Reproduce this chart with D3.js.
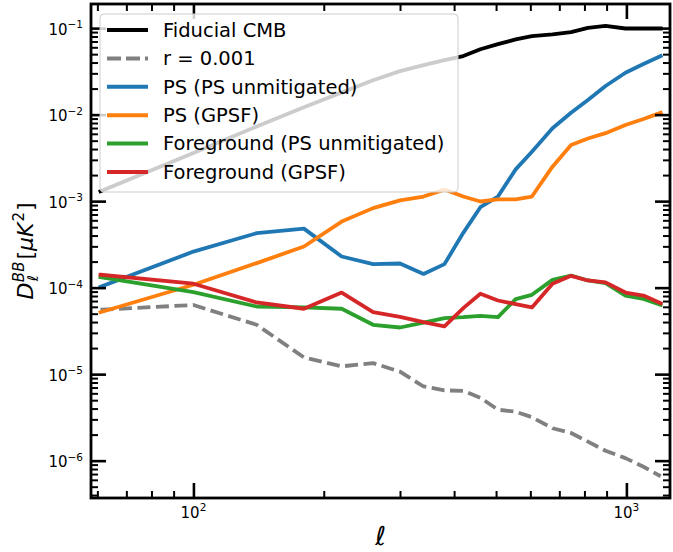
<!DOCTYPE html>
<html><head><meta charset="utf-8">
<script src="https://cdn.jsdelivr.net/npm/d3@7"></script>
<style>body{margin:0;background:#fff}svg{display:block}</style>
</head><body><svg id="c" width="673" height="552"></svg>
<script>
// ---- data (multipole bins and D_ell^BB values in uK^2) ----
const ell = [61,100,140,180,220,260,300,340,380,420,460,505,555,605,675,745,815,895,995,1095,1200];
const fiducialCMB = [1.3e-3,3.6e-3,7.3e-3,1.22e-2,1.8e-2,2.5e-2,3.18e-2,3.74e-2,4.27e-2,4.75e-2,5.7e-2,6.53e-2,7.4e-2,8.1e-2,8.46e-2,9.0e-2,1.007e-1,1.06e-1,9.9e-2,9.9e-2,9.9e-2];
const rTensor = [5.55e-5,6.3e-5,3.72e-5,1.56e-5,1.23e-5,1.34e-5,1.07e-5,7.2e-6,6.5e-6,6.4e-6,5.33e-6,3.88e-6,3.68e-6,3.18e-6,2.37e-6,2.09e-6,1.66e-6,1.3e-6,1.07e-6,8.5e-7,6.6e-7];
const psUnmitigated = [1.02e-4,2.61e-4,4.26e-4,4.81e-4,2.29e-4,1.87e-4,1.9e-4,1.44e-4,1.87e-4,4.3e-4,8.5e-4,1.13e-3,2.33e-3,3.73e-3,6.95e-3,1.05e-2,1.48e-2,2.14e-2,3.05e-2,3.84e-2,4.75e-2];
const psGPSF = [5.2e-5,1.08e-4,1.92e-4,2.99e-4,5.8e-4,8.3e-4,1.02e-3,1.13e-3,1.36e-3,1.13e-3,9.9e-4,1.05e-3,1.05e-3,1.13e-3,2.5e-3,4.45e-3,5.3e-3,6.1e-3,7.6e-3,8.9e-3,1.05e-2];
const fgUnmitigated = [1.32e-4,8.87e-5,6.05e-5,5.9e-5,5.7e-5,3.72e-5,3.46e-5,3.95e-5,4.45e-5,4.56e-5,4.72e-5,4.56e-5,7.37e-5,8.26e-5,1.23e-4,1.38e-4,1.21e-4,1.13e-4,8.1e-5,7.42e-5,6.33e-5];
const fgGPSF = [1.41e-4,1.11e-4,6.74e-5,5.7e-5,8.77e-5,5.2e-5,4.6e-5,4.0e-5,3.56e-5,5.8e-5,8.5e-5,7.1e-5,6.45e-5,5.9e-5,1.11e-4,1.37e-4,1.21e-4,1.15e-4,8.77e-5,8.1e-5,6.62e-5];
const seriesNames = ["Fiducial CMB","r = 0.001","PS (PS unmitigated)","PS (GPSF)","Foreground (PS unmitigated)","Foreground (GPSF)"];
const seriesValues = [fiducialCMB, rTensor, psUnmitigated, psGPSF, fgUnmitigated, fgGPSF];
const seriesColors = ["#000000","#808080","#1f77b4","#ff7f0e","#2ca02c","#d62728"];
const seriesDashed = [false,true,false,false,false,false];
const xDomain = [58, 1261];
const yDomain = [3.7e-7, 0.19];
const xMajor = [100, 1000];
const xMajorExp = ["2","3"];
const yMajor = [1e-6,1e-5,1e-4,1e-3,1e-2,1e-1];
const yMajorExp = ["−6","−5","−4","−3","−2","−1"];

// ---- layout ----
const svg = d3.select('#c');
const L=91, R=670, T=4, B=498;
const x = d3.scaleLog().domain(xDomain).range([L,R]);
const y = d3.scaleLog().domain(yDomain).range([B,T]);
const FONT = "DejaVu Sans, Liberation Sans, sans-serif";

// minor tick values
const xMinor = [];
for (let e=1;e<=3;e++) for (let m=2;m<=9;m++){const v=m*Math.pow(10,e); if(v>=xDomain[0]&&v<=xDomain[1]) xMinor.push(v);}
const yMinor = [];
for (let e=-7;e<=-1;e++) for (let m=2;m<=9;m++){const v=m*Math.pow(10,e); if(v>=yDomain[0]&&v<=yDomain[1]) yMinor.push(v);}

// ---- lines ----
const line = d3.line().x((d,i)=>x(ell[i])).y(d=>y(d));
const gLines = svg.append('g');
seriesValues.forEach((vals,k)=>{
  gLines.append('path').attr('d', line(vals)).attr('fill','none')
    .attr('stroke', seriesColors[k]).attr('stroke-width',3.8)
    .attr('stroke-linejoin','round')
    .attr('stroke-linecap', seriesDashed[k]?'butt':'square')
    .attr('stroke-dasharray', seriesDashed[k]?'13,5.5':null);
});

// ---- ticks (inward, all four sides) via d3 axes ----
function ax(gen, vals, size, w, tr){
  const g = svg.append('g').attr('transform',tr)
    .call(gen.tickValues(vals).tickSize(size).tickSizeOuter(0).tickFormat(''));
  g.select('.domain').remove();
  g.selectAll('.tick line').attr('stroke','#000').attr('stroke-width',w);
  return g;
}
ax(d3.axisBottom(x), xMajor, -15, 2.6, `translate(0,${B})`);
ax(d3.axisBottom(x), xMinor, -7, 2, `translate(0,${B})`);
ax(d3.axisTop(x), xMajor, -15, 2.6, `translate(0,${T})`);
ax(d3.axisTop(x), xMinor, -7, 2, `translate(0,${T})`);
ax(d3.axisLeft(y), yMajor, -15, 2.6, `translate(${L},0)`);
ax(d3.axisLeft(y), yMinor, -7, 2, `translate(${L},0)`);
ax(d3.axisRight(y), yMajor, -15, 2.6, `translate(${R},0)`);
ax(d3.axisRight(y), yMinor, -7, 2, `translate(${R},0)`);

// spines
svg.append('rect').attr('x',L).attr('y',T).attr('width',R-L).attr('height',B-T)
  .attr('fill','none').attr('stroke','#000').attr('stroke-width',2.8);

// tick labels
xMajor.forEach((v,i)=>{
  const t = svg.append('text').attr('x',x(v)).attr('y',B+19.5).attr('text-anchor','middle')
    .attr('font-family',FONT).attr('font-size',15).attr('fill','#000');
  t.append('tspan').text('10');
  t.append('tspan').attr('font-size',10.5).attr('dy',-6.5).text(xMajorExp[i]);
});
yMajor.forEach((v,i)=>{
  const t = svg.append('text').attr('x',L-8).attr('y',y(v)+6.5).attr('text-anchor','end')
    .attr('font-family',FONT).attr('font-size',15).attr('fill','#000');
  t.append('tspan').text('10');
  t.append('tspan').attr('font-size',10.5).attr('dy',-6.5).text(yMajorExp[i]);
});

// axis labels
svg.append('text').attr('x',(L+R)/2).attr('y',545).attr('text-anchor','middle')
  .attr('font-family',FONT).attr('font-size',26).attr('font-style','italic').text('ℓ');

const yl = svg.append('g').attr('transform',`translate(33,${(T+B)/2}) rotate(-90)`);
function piece(txt, size, italic, dy){
  return yl.append('text').attr('font-family',FONT).attr('font-size',size)
    .attr('font-style',italic?'italic':'normal').attr('y',dy).text(txt);
}
let cx = 0;
const pD = piece('D',22,true,0).attr('x',cx); cx += pD.node().getComputedTextLength()+0.5;
const pl = piece('ℓ',15,true,5).attr('x',cx+1);
const pBB = piece('BB',15,true,-9).attr('x',cx);
cx += Math.max(pl.node().getComputedTextLength()+1, pBB.node().getComputedTextLength())+2;
const p1 = piece('[',22,false,0).attr('x',cx); cx += p1.node().getComputedTextLength();
const p2 = piece('μ',22,true,0).attr('x',cx); cx += p2.node().getComputedTextLength();
const p3 = piece('K',22,true,0).attr('x',cx); cx += p3.node().getComputedTextLength()+1;
const p4 = piece('2',15,false,-9).attr('x',cx); cx += p4.node().getComputedTextLength()+1;
const p5 = piece(']',22,false,0).attr('x',cx); cx += p5.node().getComputedTextLength();
yl.selectAll('text').attr('transform',`translate(${-cx/2},0)`);

// ---- legend ----
const lg = svg.append('g');
lg.append('rect').attr('x',100).attr('y',14).attr('width',358).attr('height',178).attr('rx',4)
  .attr('fill','#fff').attr('fill-opacity',0.8).attr('stroke','#cccccc').attr('stroke-width',1);
seriesNames.forEach((name,k)=>{
  const yy = 30 + k*28.4;
  lg.append('line').attr('x1',107).attr('x2',148).attr('y1',yy).attr('y2',yy)
    .attr('stroke',seriesColors[k]).attr('stroke-width',4)
    .attr('stroke-dasharray', seriesDashed[k]?'14,5':null);
  lg.append('text').attr('x',163).attr('y',yy+6.8).attr('font-family',FONT)
    .attr('font-size',19.5).attr('fill','#000').text(name);
});
</script></body></html>
